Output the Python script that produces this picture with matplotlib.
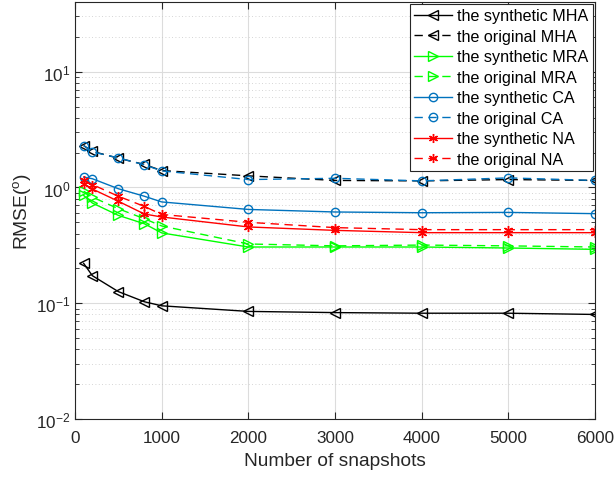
import matplotlib
matplotlib.use("Agg")
import matplotlib.pyplot as plt
from matplotlib.ticker import LogLocator, NullFormatter

plt.rcParams['font.family'] = ['Liberation Sans', 'DejaVu Sans']
plt.rcParams['mathtext.fontset'] = 'custom'
plt.rcParams['mathtext.rm'] = 'Liberation Sans'
plt.rcParams['mathtext.it'] = 'Liberation Sans:italic'
plt.rcParams['mathtext.bf'] = 'Liberation Sans:bold'

snapshots = [100, 200, 500, 800, 1000, 2000, 3000, 4000, 5000, 6000]

syn_mha = [0.221, 0.173, 0.126, 0.103, 0.095, 0.085, 0.083, 0.082, 0.082, 0.080]
ori_mha = [2.30, 2.05, 1.79, 1.58, 1.40, 1.26, 1.15, 1.14, 1.17, 1.15]
syn_mra = [0.853, 0.734, 0.574, 0.486, 0.405, 0.306, 0.306, 0.306, 0.300, 0.292]
ori_mra = [0.93, 0.826, 0.655, 0.537, 0.465, 0.325, 0.313, 0.318, 0.313, 0.306]
syn_ca = [1.23, 1.19, 0.975, 0.84, 0.75, 0.646, 0.614, 0.605, 0.609, 0.594]
ori_ca = [2.30, 2.03, 1.80, 1.57, 1.39, 1.17, 1.20, 1.14, 1.21, 1.15]
syn_na = [1.08, 0.97, 0.76, 0.59, 0.556, 0.456, 0.426, 0.407, 0.407, 0.407]
ori_na = [1.15, 1.06, 0.84, 0.686, 0.585, 0.50, 0.45, 0.432, 0.432, 0.432]

labels = ['the synthetic MHA', 'the original MHA', 'the synthetic MRA', 'the original MRA',
          'the synthetic CA', 'the original CA', 'the synthetic NA', 'the original NA']

BLUE = '#0072BD'
GREEN = '#00FF00'
RED = '#FF0000'
BLACK = '#000000'
TXT = '#262626'

fig = plt.figure(figsize=(6.15, 4.81), dpi=100)
ax = fig.add_axes([75/615, 1-420/481, 520/615, 417/481])

dash = (0, (6, 4))
ASTER = (6, 2, 0)
series = [
    (syn_mha, BLACK, '<', '-'),
    (ori_mha, BLACK, '<', dash),
    (syn_mra, GREEN, '>', '-'),
    (ori_mra, GREEN, '>', dash),
    (syn_ca, BLUE, 'o', '-'),
    (ori_ca, BLUE, 'o', dash),
    (syn_na, RED, ASTER, '-'),
    (ori_na, RED, ASTER, dash),
]
for (vals, c, m, ls), lab in zip(series, labels):
    ms = 6.5 if m != 'o' else 6
    ax.plot(snapshots, vals, color=c, marker=m, linestyle=ls, linewidth=1.0,
            markersize=ms, markerfacecolor='none', markeredgecolor=c,
            markeredgewidth=1.0, label=lab)

ax.set_yscale('log')
ax.set_xlim(0, 6000)
ax.set_ylim(1e-2, 40)
ax.set_xticks([0, 1000, 2000, 3000, 4000, 5000, 6000])
ax.yaxis.set_major_locator(LogLocator(base=10, numticks=10))
ax.yaxis.set_minor_locator(LogLocator(base=10, subs=range(2, 10), numticks=20))
ax.yaxis.set_minor_formatter(NullFormatter())

ax.grid(True, which='major', color='#dcdcdc', linewidth=0.8, linestyle='-')
ax.grid(True, which='minor', axis='y', color='#c8c8c8', linewidth=0.6, linestyle=(0, (1, 3)))
ax.set_axisbelow(True)

ax.tick_params(which='both', direction='in', top=True, right=True, labelsize=12.3, colors=TXT)
ax.tick_params(which='major', length=5, width=0.8)
ax.tick_params(which='minor', length=3, width=0.6)
ax.tick_params(axis='x', pad=8)
for s in ax.spines.values():
    s.set_color(TXT)
    s.set_linewidth(0.8)

ax.set_xlabel('Number of snapshots', fontsize=13.8, color=TXT, labelpad=5)
ax.set_ylabel(r'RMSE($^{\mathrm{o}}$)', fontsize=13.8, color=TXT, labelpad=2)

leg = ax.legend(loc='upper right', fontsize=11.6, frameon=True, fancybox=False,
                framealpha=1, edgecolor=TXT, borderaxespad=0.15,
                labelspacing=0.34, handlelength=2.4, handletextpad=0.3,
                borderpad=0.25)
leg.get_frame().set_linewidth(0.8)

fig.savefig('out.png', dpi=100)
